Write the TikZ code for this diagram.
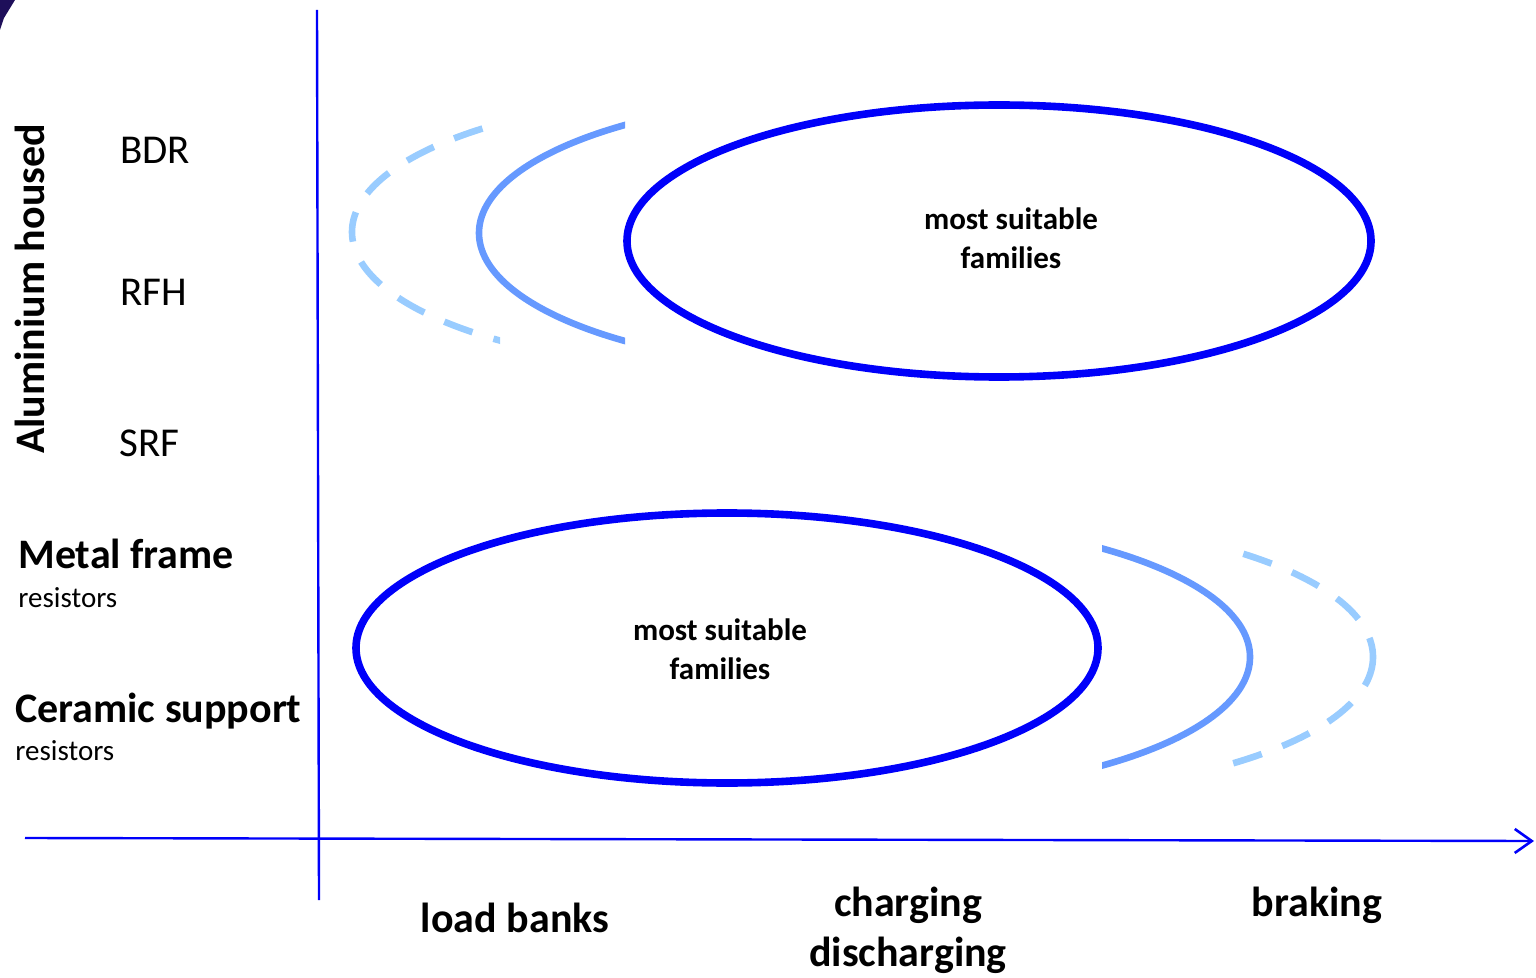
\documentclass[tikz,border=0pt]{standalone}
\usepackage{fontspec}
\setmainfont{Carlito}
\usetikzlibrary{arrows.meta, positioning}
\definecolor{mainBlue}{RGB}{0,0,250}
\definecolor{midBlue}{RGB}{102,153,255}
\definecolor{paleBlue}{RGB}{153,204,255}
\definecolor{darkNavy}{RGB}{30,15,90}

\begin{document}
\begin{tikzpicture}[x=0.5pt, y=-0.5pt,
    axis/.style={draw=mainBlue, line width=1.2pt},
    mainRing/.style={draw=mainBlue, line width=3.8pt},
    midRing/.style={draw=midBlue, line width=3.3pt},
    dashRing/.style={draw=paleBlue, line width=3.3pt, dash pattern=on 15pt off 11pt},
    rowLabel/.style={anchor=base west, inner sep=0pt, font=\fontsize{20.5}{24}\selectfont},
    groupLabel/.style={anchor=base west, inner sep=0pt, font=\fontsize{21}{25}\selectfont\bfseries},
    subLabel/.style={anchor=base west, inner sep=0pt, font=\fontsize{14.5}{17}\selectfont},
    suitLabel/.style={align=center, inner sep=0pt, font=\fontsize{15.5}{19.5}\selectfont\bfseries},
    useLabel/.style={align=center, inner sep=0pt, font=\fontsize{21}{25}\selectfont\bfseries}]
    \useasboundingbox (0,0) rectangle (1536,978);

    % coordinates
    \coordinate (yTop) at (317,10);
    \coordinate (yBot) at (319,900);
    \coordinate (xLeft) at (25,838);
    \coordinate (xRight) at (1534,841);

    % corner blob
    \fill[darkNavy] (0,0) -- (15,0) -- (4,18) -- (0,30) -- cycle;

    % axes
    \draw[axis] (yTop) -- (yBot);
    \draw[axis, -{Straight Barb[length=8.5pt, width=12pt, line width=1.3pt]}] (xLeft) -- (xRight);

    % upper group
    \begin{scope}
        \clip (0,0) rectangle (500,978);
        \draw[dashRing] (724,232) ellipse [x radius=372, y radius=136];
    \end{scope}
    \begin{scope}
        \clip (0,0) rectangle (625,978);
        \draw[midRing] (851,233) ellipse [x radius=372, y radius=136];
    \end{scope}
    \draw[mainRing] (999,241) ellipse [x radius=372, y radius=136];

    % lower group
    \begin{scope}
        \clip (1226,0) rectangle (1536,978);
        \draw[dashRing] (1001,657) ellipse [x radius=372, y radius=136];
    \end{scope}
    \begin{scope}
        \clip (1102,0) rectangle (1536,978);
        \draw[midRing] (878,657) ellipse [x radius=372, y radius=136];
    \end{scope}
    \draw[mainRing] (727,648) ellipse [x radius=371, y radius=135];

    \node[suitLabel] (upperSuit) at (1011,238) {most suitable\\families};
    \node[suitLabel] (lowerSuit) at (720,649) {most suitable\\families};

    % row labels
    \node[anchor=base, inner sep=0pt, rotate=90, font=\fontsize{21}{25}\selectfont\bfseries] (alu) at (44,289) {Aluminium housed};
    \node[rowLabel] (bdr) at (120,164) {BDR};
    \node[rowLabel] (rfh) at (120,306) {RFH};
    \node[rowLabel] (srf) at (119,456) {SRF};
    \node[groupLabel] (metal) at (18,568) {Metal frame};
    \node[subLabel] (metalSub) at (18,607) {resistors};
    \node[groupLabel] (ceramic) at (15,722) {Ceramic support};
    \node[subLabel] (ceramicSub) at (15,760) {resistors};

    % column labels
    \node[useLabel, anchor=base] (load) at (515,932) {load banks};
    \node[useLabel, anchor=base] (charge) at (908,916) {charging};
    \node[useLabel, anchor=base] (discharge) at (908,966) {discharging};
    \node[useLabel, anchor=base] (brake) at (1317,916) {braking};
\end{tikzpicture}
\end{document}
